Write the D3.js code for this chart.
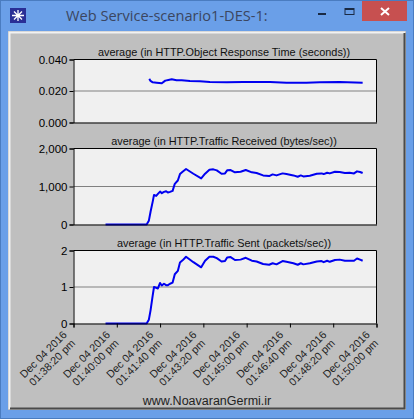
<!DOCTYPE html>
<html><head><meta charset="utf-8">
<script src="https://cdnjs.cloudflare.com/ajax/libs/d3/7.8.5/d3.min.js"></script>
<style>
html,body{margin:0;padding:0;background:#6a9fe8;overflow:hidden}
svg{display:block}
text{font-family:"Liberation Sans",Arial,sans-serif}
</style></head><body>
<svg id="c" width="414" height="419"></svg>
<script>
const windowTitle = "Web Service-scenario1-DES-1:";
const footer = "www.NoavaranGermi.ir";
const tickDates = ["Dec 04 2016","Dec 04 2016","Dec 04 2016","Dec 04 2016","Dec 04 2016","Dec 04 2016","Dec 04 2016","Dec 04 2016"];
const tickTimes = ["01:38:20 pm","01:40:00 pm","01:41:40 pm","01:43:20 pm","01:45:00 pm","01:46:40 pm","01:48:20 pm","01:50:00 pm"];
const tickSeconds = [0,100,200,300,400,500,600,700];

const responseTitle = "average (in HTTP.Object Response Time (seconds))";
const responseTicks = [0,0.02,0.04];
const responseSeconds = [175,178,183,192,204,212,219,227,238,250,269,292,315,354,392,454,492,538,569,615,668];
const responseValues = [.0277,.0264,.0255,.0253,.0249,.0266,.0270,.0274,.0268,.0268,.0264,.0262,.0257,.0255,.0257,.0257,.0253,.0253,.0255,.0257,.0253];

const trafficSeconds = [74,169,174,178,183,186,191,195,200,204,209,214,218,223,229,234,241,246,252,260,277,295,304,314,323,331,342,350,355,363,373,386,398,412,423,438,452,460,469,483,492,508,518,525,531,546,562,573,578,586,592,604,615,627,638,648,655,662,668];

const receivedTitle = "average (in HTTP.Traffic Received (bytes/sec))";
const receivedTicks = [0,1000,2000];
const receivedValues = [0,0,97,336,602,779,752,805,867,823,858,876,841,858,885,1071,1159,1327,1389,1460,1336,1212,1336,1442,1451,1425,1336,1345,1425,1434,1372,1389,1434,1372,1354,1292,1274,1319,1292,1345,1327,1292,1257,1292,1265,1283,1336,1345,1327,1363,1345,1389,1381,1354,1363,1345,1398,1381,1354];

const sentTitle = "average (in HTTP.Traffic Sent (packets/sec))";
const sentTicks = [0,1,2];
const sentValues = [0,0,.10,.36,.77,1.0,.98,.96,1.11,1.04,1.09,1.05,1.05,1.09,1.12,1.35,1.44,1.67,1.73,1.83,1.68,1.54,1.72,1.83,1.83,1.79,1.70,1.71,1.81,1.82,1.74,1.75,1.80,1.72,1.70,1.63,1.61,1.65,1.62,1.71,1.69,1.65,1.61,1.65,1.62,1.65,1.70,1.71,1.68,1.72,1.69,1.74,1.75,1.72,1.72,1.72,1.78,1.75,1.72];

const svg = d3.select("#c");
// window chrome
svg.append("rect").attr("width",414).attr("height",419).attr("fill","#6a9fe8");
svg.append("rect").attr("x",0.5).attr("y",0.5).attr("width",413).attr("height",418).attr("fill","none").attr("stroke","#4a7cc0");
svg.append("rect").attr("x",362).attr("y",1).attr("width",45).attr("height",20).attr("fill","#c75050");
svg.append("path").attr("d","M381 8L389 15M389 8L381 15").attr("stroke","#fff").attr("stroke-width",2).attr("fill","none");
svg.append("rect").attr("x",318).attr("y",13).attr("width",8).attr("height",2).attr("fill","#1a2a44");
svg.append("rect").attr("x",345).attr("y",8.5).attr("width",9).attr("height",6).attr("fill","none").attr("stroke","#1a2a44").attr("stroke-width",1);
svg.append("rect").attr("x",345).attr("y",8).attr("width",9).attr("height",2).attr("fill","#1a2a44");
svg.append("rect").attr("x",10).attr("y",8).attr("width",16).attr("height",15).attr("fill","#2a2f96");
svg.append("path").attr("d","M18 10V21M12 15.5H24M14 11.5L22 19.5M22 11.5L14 19.5").attr("stroke","#fff").attr("stroke-width",1.3);
svg.append("text").attr("x",66).attr("y",21).attr("font-size",14.6).attr("fill","#3b4660")
  .style("font-family","'Open Sans',sans-serif").text(windowTitle);

// client area bevel
svg.append("rect").attr("x",8).attr("y",31).attr("width",398).attr("height",379).attr("fill","#bfbfbf");
svg.append("path").attr("d","M9.5 409V32.5H405").attr("fill","none").attr("stroke","#f2f2f2").attr("stroke-width",2);
svg.append("path").attr("d","M404.5 33V408.5H10").attr("fill","none").attr("stroke","#4a4a4a").attr("stroke-width",2);

const x = d3.scaleLinear().domain([0,700]).range([73.5,376.5]);

function panel(title, ticks, fmt, xs, ys, top, bottom, showX, titleX){
  const y = d3.scaleLinear().domain(d3.extent(ticks)).range([bottom,top]);
  const g = svg.append("g");
  g.append("rect").attr("x",x(0)).attr("y",top).attr("width",x(700)-x(0)).attr("height",bottom-top).attr("fill","#f0f0f0");
  g.append("line").attr("x1",x(0)).attr("x2",x(700)).attr("y1",y(ticks[1])).attr("y2",y(ticks[1])).attr("stroke","#808080");
  g.append("path").datum(d3.zip(xs,ys))
    .attr("d",d3.line().x(d=>x(d[0])).y(d=>y(d[1])))
    .attr("fill","none").attr("stroke","#0000f0").attr("stroke-width",2).attr("stroke-linejoin","round");
  const ax = g.append("g").attr("transform",`translate(${x(0)},0)`)
    .call(d3.axisLeft(y).tickValues(ticks).tickFormat(fmt).tickSize(4).tickPadding(2));
  ax.select(".domain").attr("stroke","#000");
  ax.selectAll("text").attr("font-size",11.5).attr("fill","#000").style("font-family","'Liberation Sans',sans-serif");
  const bx = g.append("g").attr("transform",`translate(0,${bottom})`)
    .call(d3.axisBottom(x).tickValues(tickSeconds).tickSize(showX?4:0).tickFormat(""));
  bx.select(".domain").attr("stroke","#000");
  g.append("line").attr("x1",x(700)).attr("x2",x(700)).attr("y1",top).attr("y2",bottom).attr("stroke","#000");
  g.append("line").attr("x1",x(0)).attr("x2",x(700)).attr("y1",top).attr("y2",top).attr("stroke","#000");
  g.append("text").attr("x",titleX).attr("y",top-4).attr("text-anchor","middle").attr("font-size",10.9).attr("fill","#111").text(title);
  if(showX){
    tickSeconds.forEach((s,i)=>{
      const t = g.append("text").attr("transform",`translate(${x(s)-6},${bottom+12}) rotate(-45)`)
        .attr("text-anchor","end").attr("font-size",10.8).attr("fill","#222");
      t.append("tspan").attr("x",0).attr("y",0).text(tickDates[i]);
      t.append("tspan").attr("x",0).attr("y",12).text(tickTimes[i]);
    });
  }
}
panel(responseTitle,responseTicks,d3.format(".3f"),responseSeconds,responseValues,59.5,122.5,false,224);
panel(receivedTitle,receivedTicks,d3.format(","),trafficSeconds,receivedValues,148.5,224.5,false,224);
panel(sentTitle,sentTicks,d3.format("d"),trafficSeconds,sentValues,250.5,323.5,true,224);
svg.append("text").attr("x",207).attr("y",405).attr("text-anchor","middle").attr("font-size",12.5).attr("fill","#222").text(footer);
</script>
</body></html>
